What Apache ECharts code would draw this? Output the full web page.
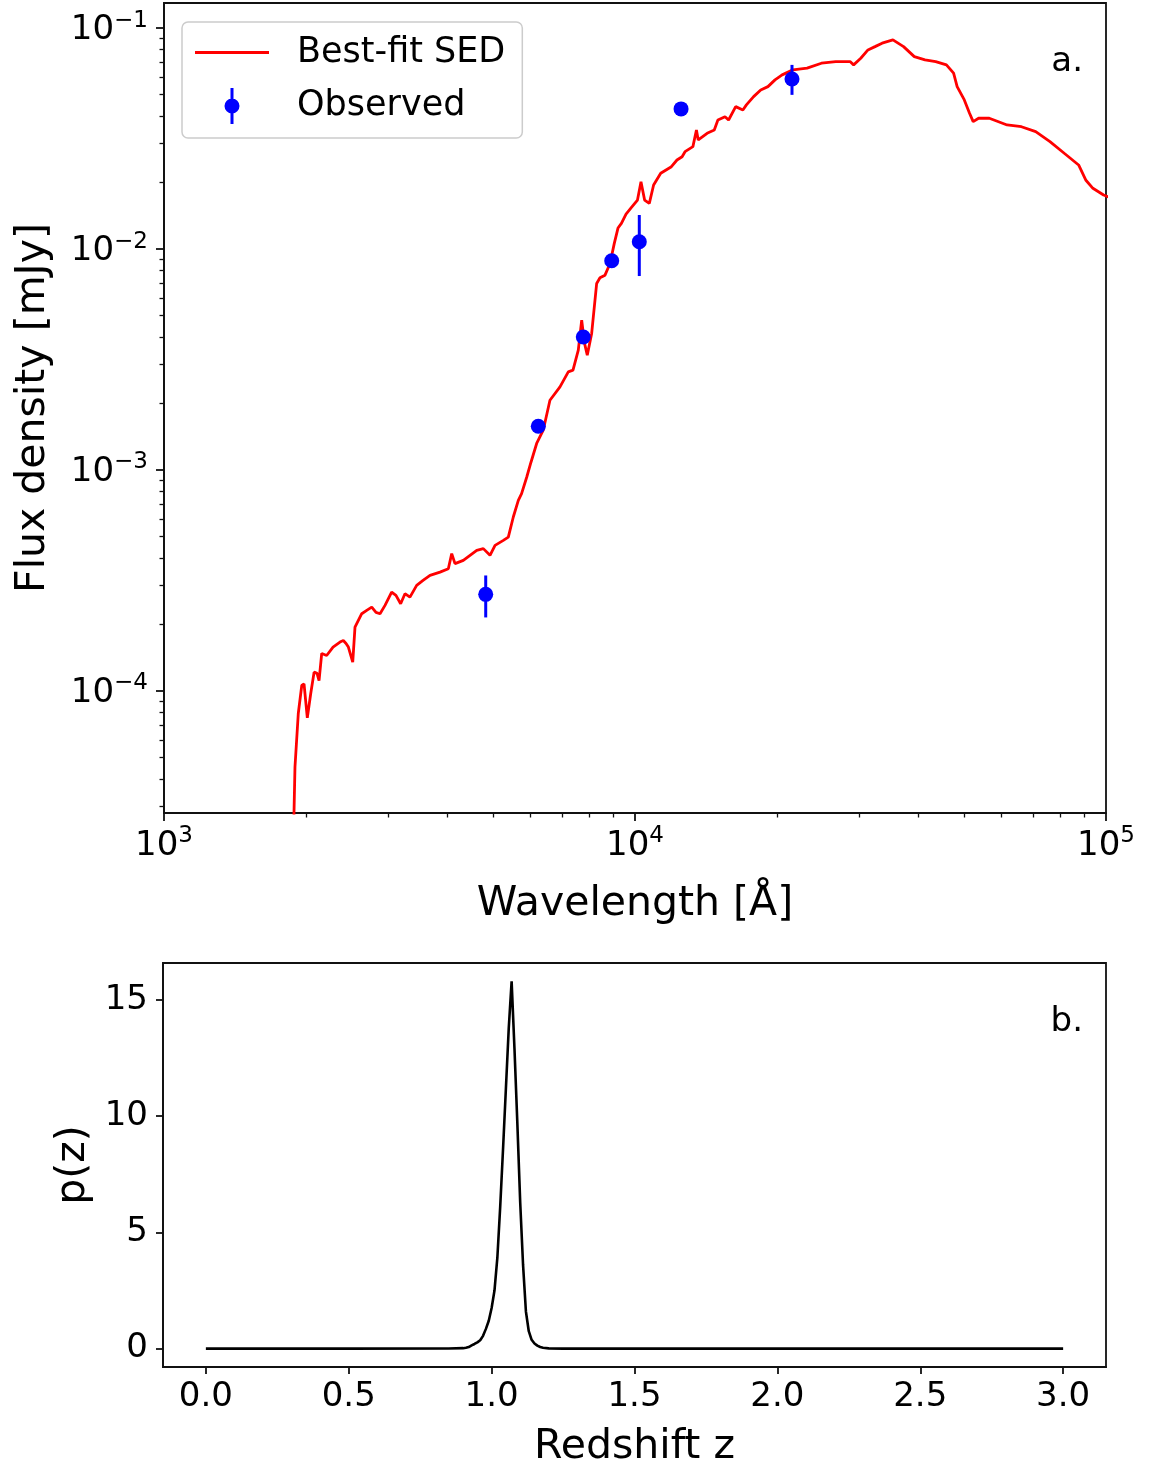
<!DOCTYPE html>
<html>
<head>
<meta charset="utf-8">
<script src="https://cdn.jsdelivr.net/npm/echarts@6/dist/echarts.min.js"></script>
<style>
  html, body { margin: 0; padding: 0; background: #fff; }
  #chart { width: 1149px; height: 1466px; }
</style>
</head>
<body>
<div id="chart"></div>
<script>
// ---------- Panel a: best-fit SED (wavelength in Angstrom, flux density in mJy) ----------
const sedLam = [1875, 1888, 1897, 1928, 1961, 1983, 2015, 2049, 2083, 2113, 2134, 2162, 2215, 2285, 2364, 2403, 2435, 2463, 2516, 2544, 2629, 2694, 2761, 2819, 2875, 2946, 3043, 3108, 3180, 3248, 3328, 3439, 3548, 3671, 3855, 4015, 4082, 4148, 4320, 4464, 4613, 4764, 4922, 5045, 5254, 5383, 5516, 5653, 5744, 5889, 6014, 6183, 6385, 6598, 6930, 7217, 7385, 7579, 7706, 7812, 7919, 8091, 8291, 8426, 8636, 8850, 9037, 9202, 9357, 9571, 9858, 10122, 10297, 10481, 10725, 10952, 11339, 11947, 12278, 12589, 12770, 13272, 13503, 13622, 14226, 14734, 14997, 15528, 15802, 16360, 16946, 17240, 17858, 18490, 19153, 19828, 20528, 21639, 23194, 24878, 26683, 28613, 29118, 30153, 31232, 32330, 33467, 35288, 37171, 39174, 41280, 43496, 45837, 47470, 48300, 50024, 51320, 52240, 53640, 56520, 61660, 66140, 70920, 76040, 81530, 87470, 90560, 93800, 98830, 103000];
const sedFlux = [5e-6, 2.79e-5, 4.51e-5, 7.9e-5, 1.058e-4, 1.076e-4, 7.55e-5, 9.73e-5, 1.216e-4, 1.2e-4, 1.114e-4, 1.477e-4, 1.446e-4, 1.578e-4, 1.663e-4, 1.69e-4, 1.64e-4, 1.578e-4, 1.349e-4, 1.943e-4, 2.235e-4, 2.313e-4, 2.394e-4, 2.265e-4, 2.235e-4, 2.438e-4, 2.80e-4, 2.706e-4, 2.48e-4, 2.754e-4, 2.657e-4, 3.003e-4, 3.163e-4, 3.333e-4, 3.449e-4, 3.574e-4, 4.18e-4, 3.766e-4, 3.898e-4, 4.107e-4, 4.327e-4, 4.405e-4, 4.107e-4, 4.558e-4, 4.803e-4, 4.97e-4, 6.124e-4, 7.29e-4, 7.815e-4, 9.27e-4, 1.084e-3, 1.318e-3, 1.514e-3, 2.069e-3, 2.377e-3, 2.78e-3, 2.83e-3, 3.486e-3, 4.77e-3, 3.75e-3, 3.31e-3, 4.15e-3, 6.99e-3, 7.41e-3, 7.62e-3, 8.61e-3, 1.061e-2, 1.245e-2, 1.308e-2, 1.441e-2, 1.555e-2, 1.667e-2, 2.018e-2, 1.667e-2, 1.61e-2, 1.95e-2, 2.203e-2, 2.36e-2, 2.531e-2, 2.619e-2, 2.76e-2, 2.908e-2, 3.46e-2, 3.118e-2, 3.344e-2, 3.46e-2, 3.84e-2, 3.976e-2, 3.84e-2, 4.414e-2, 4.264e-2, 4.493e-2, 4.9e-2, 5.253e-2, 5.437e-2, 5.833e-2, 6.145e-2, 6.475e-2, 6.59e-2, 6.94e-2, 7.06e-2, 7.06e-2, 6.82e-2, 7.31e-2, 7.97e-2, 8.25e-2, 8.55e-2, 8.85e-2, 8.25e-2, 7.435e-2, 7.186e-2, 7.06e-2, 6.82e-2, 6.255e-2, 5.437e-2, 4.733e-2, 4.12e-2, 3.774e-2, 3.91e-2, 3.91e-2, 3.646e-2, 3.58e-2, 3.4e-2, 3.063e-2, 2.714e-2, 2.403e-2, 2.055e-2, 1.884e-2, 1.757e-2, 1.70e-2];

// Observed photometry
const obsLam   = [4820, 6232, 7766, 8924, 10212, 12525, 21544];
const obsFlux  = [2.735e-4, 1.578e-3, 4.0e-3, 8.85e-3, 1.079e-2, 4.31e-2, 5.89e-2];
const obsLower = [2.15e-4, 1.50e-3, 3.8e-3, 8.4e-3, 7.55e-3, 4.1e-2, 4.99e-2];
const obsUpper = [3.33e-4, 1.66e-3, 4.2e-3, 9.3e-3, 1.426e-2, 4.52e-2, 6.82e-2];

// Axis ticks for panel a
const lamMajorTicks = [1000, 10000, 100000];
const lamMinorTicks = [2000, 3000, 4000, 5000, 6000, 7000, 8000, 9000, 20000, 30000, 40000, 50000, 60000, 70000, 80000, 90000];
const fluxMajorTicks = [1e-4, 1e-3, 1e-2, 1e-1];
const fluxMinorTicks = [3e-5, 4e-5, 5e-5, 6e-5, 7e-5, 8e-5, 9e-5, 2e-4, 3e-4, 4e-4, 5e-4, 6e-4, 7e-4, 8e-4, 9e-4, 2e-3, 3e-3, 4e-3, 5e-3, 6e-3, 7e-3, 8e-3, 9e-3, 2e-2, 3e-2, 4e-2, 5e-2, 6e-2, 7e-2, 8e-2, 9e-2];

// ---------- Panel b: redshift probability distribution ----------
const zVals  = [0.0, 0.5, 0.85, 0.90, 0.91, 0.92, 0.93, 0.94, 0.95, 0.96, 0.97, 0.98, 0.99, 1.00, 1.01, 1.02, 1.03, 1.04, 1.05, 1.06, 1.07, 1.08, 1.09, 1.10, 1.11, 1.12, 1.13, 1.14, 1.15, 1.16, 1.17, 1.18, 1.20, 1.25, 1.5, 2.0, 2.5, 3.0];
const pzVals = [0, 0, 0.005, 0.02, 0.04, 0.07, 0.14, 0.2, 0.27, 0.36, 0.55, 0.85, 1.2, 1.75, 2.5, 3.9, 6.1, 8.6, 11.2, 13.8, 15.8, 12.9, 9.7, 6.3, 3.6, 1.6, 0.75, 0.38, 0.22, 0.13, 0.07, 0.04, 0.01, 0, 0, 0, 0, 0];
const zTicks  = [0, 0.5, 1.0, 1.5, 2.0, 2.5, 3.0];
const pzTicks = [0, 5, 10, 15];

// ---------- styling ----------
const FONT = 'DejaVu Sans';
const AXIS_COLOR = '#111111';
const TICK_FS = 34;
const NAME_FS = 41;

function supLabel(v) {
  const e = Math.round(Math.log10(v));
  const s = e < 0 ? '\u2212' + Math.abs(e) : String(e);
  return '{b|10}{s|' + s + '}';
}
const supRich = {
  b: { fontSize: TICK_FS, fontFamily: FONT, color: '#000', lineHeight: 38, padding: [4, 0, 0, 0] },
  s: { fontSize: 23, fontFamily: FONT, color: '#000', lineHeight: 24, verticalAlign: 'top' }
};

const axisLineStyle = { show: true, onZero: false, lineStyle: { color: AXIS_COLOR, width: 1.8 } };

function minorAxis(gridIndex, type, min, max, pos, ticks) {
  return {
    type: type, gridIndex: gridIndex, min: min, max: max, position: pos,
    axisLine: { show: false, onZero: false },
    axisLabel: { show: false },
    splitLine: { show: false },
    axisTick: { show: true, length: 4.5, customValues: ticks, lineStyle: { color: AXIS_COLOR, width: 1.3 } }
  };
}

const sedData = sedLam.map((l, i) => [l, sedFlux[i]]);
const obsData = obsLam.map((l, i) => [l, obsFlux[i]]);
const errData = obsLam.map((l, i) => [l, obsLower[i], obsUpper[i]]);
const pzData  = zVals.map((z, i) => [z, pzVals[i]]);

const chart = echarts.init(document.getElementById('chart'), null, { renderer: 'canvas' });

const option = {
  animation: false,
  backgroundColor: '#ffffff',
  textStyle: { fontFamily: FONT },
  grid: [
    { left: 164, top: 3, width: 942, height: 810, show: true, borderColor: AXIS_COLOR, borderWidth: 1.8,
      backgroundColor: 'transparent', containLabel: false, outerBoundsMode: 'none' },
    { left: 163, top: 963, width: 943, height: 404, show: true, borderColor: AXIS_COLOR, borderWidth: 1.8,
      backgroundColor: 'transparent', containLabel: false, outerBoundsMode: 'none' }
  ],
  xAxis: [
    {
      type: 'log', logBase: 10, gridIndex: 0, min: 1000, max: 100000, position: 'bottom',
      axisLine: axisLineStyle,
      splitLine: { show: false },
      axisTick: { show: true, length: 8, customValues: lamMajorTicks, lineStyle: { color: AXIS_COLOR, width: 1.8 } },
      axisLabel: { customValues: lamMajorTicks, margin: 12, formatter: supLabel, rich: supRich },
      name: 'Wavelength [Å]', nameLocation: 'middle', nameGap: 71,
      nameTextStyle: { fontSize: NAME_FS, fontFamily: FONT, color: '#000' }
    },
    minorAxis(0, 'log', 1000, 100000, 'bottom', lamMinorTicks),
    {
      type: 'value', gridIndex: 1, min: -0.15, max: 3.15, position: 'bottom',
      axisLine: axisLineStyle,
      splitLine: { show: false },
      axisTick: { show: true, length: 7, customValues: zTicks, lineStyle: { color: AXIS_COLOR, width: 1.8 } },
      axisLabel: { customValues: zTicks, margin: 13, fontSize: TICK_FS, fontFamily: FONT, color: '#000',
                   formatter: v => Number(v).toFixed(1) },
      name: 'Redshift z', nameLocation: 'middle', nameGap: 60,
      nameTextStyle: { fontSize: NAME_FS, fontFamily: FONT, color: '#000' }
    }
  ],
  yAxis: [
    {
      type: 'log', logBase: 10, gridIndex: 0, min: 2.8e-5, max: 0.13, position: 'left',
      axisLine: axisLineStyle,
      splitLine: { show: false },
      axisTick: { show: true, length: 8, customValues: fluxMajorTicks, lineStyle: { color: AXIS_COLOR, width: 1.8 } },
      axisLabel: { customValues: fluxMajorTicks, margin: 16, formatter: supLabel, rich: supRich },
      name: 'Flux density [mJy]', nameLocation: 'middle', nameGap: 110,
      nameTextStyle: { fontSize: NAME_FS, fontFamily: FONT, color: '#000' }
    },
    minorAxis(0, 'log', 2.8e-5, 0.13, 'left', fluxMinorTicks),
    {
      type: 'value', gridIndex: 1, min: -0.79, max: 16.59, position: 'left',
      axisLine: axisLineStyle,
      splitLine: { show: false },
      axisTick: { show: true, length: 7, customValues: pzTicks, lineStyle: { color: AXIS_COLOR, width: 1.8 } },
      axisLabel: { customValues: pzTicks, margin: 15, fontSize: TICK_FS, fontFamily: FONT, color: '#000' },
      name: 'p(z)', nameLocation: 'middle', nameGap: 63,
      nameTextStyle: { fontSize: NAME_FS, fontFamily: FONT, color: '#000' }
    }
  ],
  legend: {
    show: true,
    orient: 'vertical',
    left: 182, top: 22,
    padding: [13, 17, 14, 13],
    itemWidth: 74, itemHeight: 36, itemGap: 18,
    backgroundColor: 'rgba(255,255,255,0.8)',
    borderColor: '#cccccc', borderWidth: 1.5, borderRadius: 6,
    selectedMode: false,
    textStyle: { fontSize: 35, fontFamily: FONT, color: '#000', padding: [0, 0, 0, 23] },
    data: [
      { name: 'Best-fit SED', icon: 'path://M0,0 H74 V2.8 H0 Z' },
      { name: 'Observed', icon: 'path://M6,0 H9 V36 H6 Z M0,18 A7.5,7.5 0 1,1 15,18 A7.5,7.5 0 1,1 0,18 Z' }
    ]
  },
  graphic: [
    { type: 'text', x: 1083, y: 62, style: { text: 'a.', fontSize: 34, fontFamily: FONT, fill: '#000', align: 'right', verticalAlign: 'middle' }, z: 100 },
    { type: 'text', x: 1083, y: 1022, style: { text: 'b.', fontSize: 34, fontFamily: FONT, fill: '#000', align: 'right', verticalAlign: 'middle' }, z: 100 }
  ],
  series: [
    {
      name: 'Best-fit SED', type: 'line', xAxisIndex: 0, yAxisIndex: 0,
      data: sedData, symbol: 'none', showSymbol: false, clip: true,
      lineStyle: { color: '#ff0000', width: 2.8 }, itemStyle: { color: '#ff0000' }, z: 2
    },
    {
      name: 'errorbars', type: 'custom', xAxisIndex: 0, yAxisIndex: 0,
      data: errData, encode: { x: 0, y: [1, 2] }, z: 3,
      renderItem: function (params, api) {
        const p1 = api.coord([api.value(0), api.value(1)]);
        const p2 = api.coord([api.value(0), api.value(2)]);
        return { type: 'line', shape: { x1: p1[0], y1: p1[1], x2: p2[0], y2: p2[1] },
                 style: { stroke: '#0000ff', lineWidth: 3 } };
      }
    },
    {
      name: 'Observed', type: 'scatter', xAxisIndex: 0, yAxisIndex: 0,
      data: obsData, symbol: 'circle', symbolSize: 15,
      itemStyle: { color: '#0000ff', opacity: 1 }, z: 4
    },
    {
      name: 'pz', type: 'line', xAxisIndex: 2, yAxisIndex: 2,
      data: pzData, symbol: 'none', showSymbol: false,
      lineStyle: { color: '#000000', width: 2.6 }, z: 2
    }
  ]
};
chart.setOption(option);
</script>
</body>
</html>
